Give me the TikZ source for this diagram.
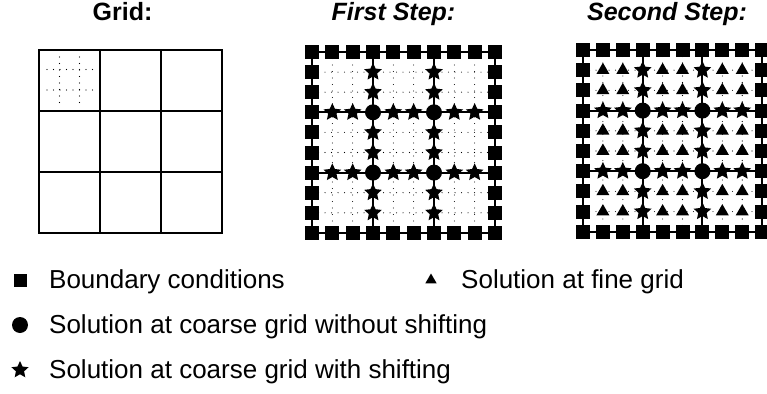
\documentclass[tikz,border=0pt]{standalone}
\usepackage{fontspec}
\setmainfont{Liberation Sans}
\usetikzlibrary{shapes.geometric}
\tikzset{
  bnd/.style={rectangle, fill=black, minimum size=14pt, inner sep=0pt},
  crs/.style={circle, fill=black, minimum size=16pt, inner sep=0pt},
  shf/.style={star, star points=5, star point ratio=2.1, fill=black, minimum size=18.5pt, inner sep=0pt},
  fin/.style={regular polygon, regular polygon sides=3, fill=black, minimum size=15pt, inner sep=0pt},
  dots/.style={line width=1.1pt, dash pattern=on 0pt off 6.5pt, line cap=round},
  thick line/.style={line width=2pt},
  title/.style={font=\bfseries\fontsize{25}{30}\selectfont, anchor=base},
  legend/.style={font=\fontsize{26}{30}\selectfont, anchor=base west, inner sep=0pt},
}
\newcommand\drawpanel[5]{%
 \begin{scope}[shift={(#1,#2)}, x=#3pt, y=-#4pt]
  \foreach \k in {1,2,4,5,7,8}{
    \draw[dots] (0,\k) -- (9,\k);
    \draw[dots] (\k,0) -- (\k,9);
  }
  \draw[thick line] (0,0) rectangle (9,9);
  \foreach \k in {3,6}{
    \draw[thick line] (0,\k) -- (9,\k);
    \draw[thick line] (\k,0) -- (\k,9);
  }
  \foreach \k in {0,...,9}{
    \node[bnd] at (\k,0) {}; \node[bnd] at (\k,9) {};
    \node[bnd] at (0,\k) {}; \node[bnd] at (9,\k) {};
  }
  \foreach \a in {3,6}{\foreach \b in {1,2,4,5,7,8}{
    \node[shf] at (\a,\b) {}; \node[shf] at (\b,\a) {};
  }}
  \foreach \a in {3,6}{\foreach \b in {3,6}{\node[crs] at (\a,\b) {};}}
  \ifnum#5=1
  \foreach \a in {1,2,4,5,7,8}{\foreach \b in {1,2,4,5,7,8}{\node[fin] at (\a,\b) {};}}
  \fi
 \end{scope}}
\begin{document}
\begin{tikzpicture}[x=1pt,y=-1pt]
\useasboundingbox (0,0) rectangle (767,393);
% titles
\node[title] (t1) at (122.5,21) {Grid:};
\node[title, font=\bfseries\itshape\fontsize{25}{30}\selectfont] (t2) at (393.5,21) {First Step:};
\node[title, font=\bfseries\itshape\fontsize{25}{30}\selectfont] (t3) at (667,21) {Second Step:};
% grid panel
\draw[dots] (47,69.5) -- (99,69.5);
\draw[dots] (47,90) -- (99,90);
\draw[dots] (59.5,57) -- (59.5,104);
\draw[dots] (79.5,57) -- (79.5,104);
\draw[thick line] (39,50) rectangle (222,233);
\draw[thick line] (100,50) -- (100,233);
\draw[thick line] (161,50) -- (161,233);
\draw[thick line] (39,111) -- (222,111);
\draw[thick line] (39,172) -- (222,172);
% step panels
\drawpanel{312}{52}{20.33}{20.1}{0}
\drawpanel{583}{50}{19.9}{20.2}{1}
% legend
\node[bnd, minimum size=13pt] (l1) at (20,280) {};
\node[legend] (lt1) at (49,288) {Boundary conditions};
\node[crs, minimum size=16pt] (l2) at (20,325) {};
\node[legend] (lt2) at (49,333) {Solution at coarse grid without shifting};
\node[shf, minimum size=18pt] (l3) at (20,370) {};
\node[legend] (lt3) at (49,378) {Solution at coarse grid with shifting};
\node[fin, minimum size=13pt] (l4) at (431,280) {};
\node[legend] (lt4) at (461,288) {Solution at fine grid};
\end{tikzpicture}
\end{document}
